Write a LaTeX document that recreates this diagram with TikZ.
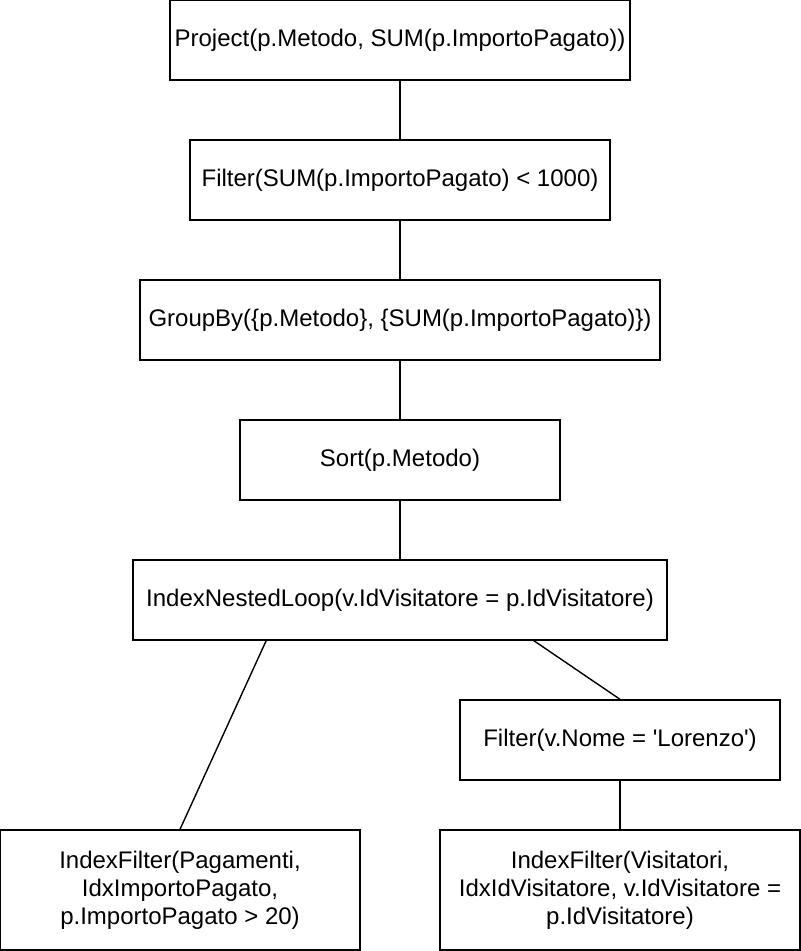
\documentclass[tikz,border=0pt]{standalone}
\usepackage{fontspec}
\setmainfont{Liberation Sans}
\usetikzlibrary{calc}
\tikzstyle{opS}=[rectangle,draw=black,line width=0.7pt,inner sep=0pt,font=\fontsize{12}{14}\selectfont,align=center]
\tikzstyle{eLine}=[line width=0.7pt,draw=black]

\begin{document}
\begin{tikzpicture}[x=0.5pt,y=-0.5pt]%[1 unit = 1 px of the drawing]

                \useasboundingbox (0,0) rectangle (801,951);

                \draw (400,40) node[opS,minimum width=230pt,minimum height=40pt] (proj) {Project(p.Metodo, SUM(p.ImportoPagato))};
                \draw (400,180) node[opS,minimum width=210pt,minimum height=40pt] (filt) {Filter(SUM(p.ImportoPagato) < 1000)};
                \draw (400,320) node[opS,minimum width=260pt,minimum height=40pt] (grp) {GroupBy(\{p.Metodo\}, \{SUM(p.ImportoPagato)\})};
                \draw (400,460) node[opS,minimum width=160pt,minimum height=40pt] (sort) {Sort(p.Metodo)};
                \draw (400,600) node[opS,minimum width=267pt,minimum height=40pt] (inl) {IndexNestedLoop(v.IdVisitatore = p.IdVisitatore)};
                \draw (620,740) node[opS,minimum width=160pt,minimum height=40pt] (vfilt) {Filter(v.Nome = \textquotesingle Lorenzo\textquotesingle)};
                \draw (180,890) node[opS,minimum width=180pt,minimum height=60pt] (ifp) {IndexFilter(Pagamenti,\\IdxImportoPagato,\\p.ImportoPagato > 20)};
                \draw (620,890) node[opS,minimum width=180pt,minimum height=60pt] (ifv) {IndexFilter(Visitatori,\\IdxIdVisitatore, v.IdVisitatore =\\p.IdVisitatore)};

                \coordinate (inlL) at ($(inl.south west)!0.25!(inl.south east)$);
                \coordinate (inlR) at ($(inl.south west)!0.75!(inl.south east)$);

                \path
                    (proj) edge[eLine] (filt)
                    (filt) edge[eLine] (grp)
                    (grp) edge[eLine] (sort)
                    (sort) edge[eLine] (inl)
                    (inlL) edge[eLine] (ifp.north)
                    (inlR) edge[eLine] (vfilt.north)
                    (vfilt) edge[eLine] (ifv)
                ;

        \end{tikzpicture}
\end{document}
